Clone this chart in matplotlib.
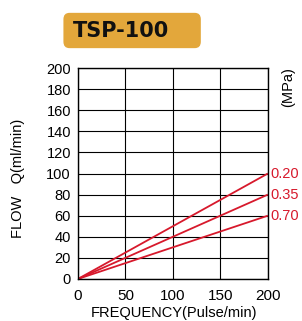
import matplotlib.pyplot as plt
import numpy as np
from matplotlib.patches import FancyBboxPatch

plt.rcParams['font.family'] = ['Liberation Sans', 'DejaVu Sans']

# data
freq = [0, 200]
pressures = ['0.20', '0.35', '0.70']
flow_end = [100, 80, 60]

red = '#d7192c'

fig = plt.figure(figsize=(3.02, 3.21), dpi=100)
ax = fig.add_axes([0.258, 0.131, 0.629, 0.657])

for p, f in zip(pressures, flow_end):
    ax.plot(freq, [0, f], color=red, lw=1.3, solid_capstyle='butt')
    ax.text(203, f, p, color=red, fontsize=10.5, va='center', ha='left')

ax.set_xlim(0, 200)
ax.set_ylim(0, 200)
ax.set_xticks(np.arange(0, 201, 50))
ax.set_yticks(np.arange(0, 201, 20))
ax.grid(True, color='black', lw=0.8)
ax.tick_params(axis='y', length=0, labelsize=10.5, pad=5)
ax.tick_params(axis='x', length=0, labelsize=11, pad=7)
for s in ax.spines.values():
    s.set_linewidth(1.0)

fig.text(0.576, 0.003, 'FREQUENCY(Pulse/min)', fontsize=10.5, ha='center', va='bottom')
fig.text(0.06, 0.445, 'FLOW   Q(ml/min)', rotation=90, fontsize=10.5,
         ha='center', va='center')
fig.text(0.954, 0.729, '(MPa)', rotation=90, fontsize=10.5, ha='center', va='center')

# title badge
badge = FancyBboxPatch((0.21, 0.85), 0.455, 0.11, boxstyle='round,pad=0,rounding_size=0.02',
                       transform=fig.transFigure, facecolor='#e3a73b', edgecolor='none')
fig.patches.append(badge)
fig.text(0.40, 0.903, 'TSP-100', fontsize=15, fontweight='bold', ha='center', va='center',
         color='#111111', family='DejaVu Sans')

fig.savefig('out.png', dpi=100)
